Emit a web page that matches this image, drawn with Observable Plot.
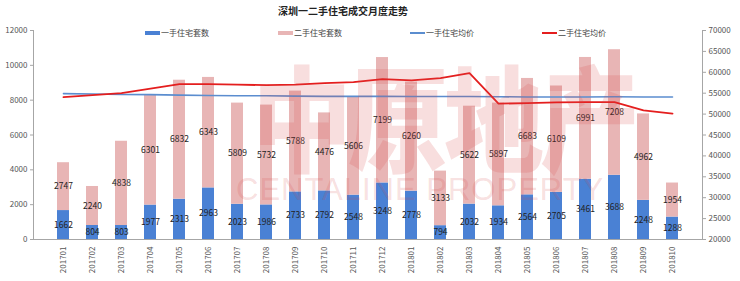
<!DOCTYPE html>
<html>
<head>
<meta charset="utf-8">
<script src="https://cdn.jsdelivr.net/npm/d3@7"></script>
<script src="https://cdn.jsdelivr.net/npm/@observablehq/plot@0.6"></script>
<style>
  html, body { margin: 0; padding: 0; background: #fff; }
  #wrap { position: relative; width: 740px; height: 281px; overflow: hidden; font-family: "Noto Sans CJK SC", sans-serif; }
  #title { height: 20px; line-height: 22px; font-size: 10px; font-weight: bold; color: #222; position: relative; }
  #title span { position: absolute; left: 278px; top: 0; }
  .leg { position: absolute; top: 27px; font-size: 8px; color: #444; display: flex; align-items: center; white-space: nowrap; }
  .leg i { display: inline-block; width: 15px; margin-right: 1px; }
  .wm { position: absolute; pointer-events: none; color: rgba(215, 70, 70, 0.18); white-space: nowrap; }
</style>
</head>
<body>
<div id="wrap">
  <div id="title"><span>深圳一二手住宅成交月度走势</span></div>
</div>
<script>
const months = ["201701","201702","201703","201704","201705","201706","201707","201708","201709","201710","201711","201712","201801","201802","201803","201804","201805","201806","201807","201808","201809","201810"];
const firstHand = [1662,804,803,1977,2313,2963,2023,1986,2733,2792,2548,3248,2778,794,2032,1934,2564,2705,3461,3688,2248,1288];
const secondHand = [2747,2240,4838,6301,6832,6343,5809,5732,5788,4476,5606,7199,6260,3133,5622,5897,6683,6109,6991,7208,4962,1954];
const firstPrice = [54900,54800,54700,54650,54550,54450,54400,54400,54300,54250,54250,54250,54200,54200,54200,54150,54100,54100,54100,54150,54100,54100];
const secondPrice = [54070,54550,55020,56070,57170,57170,57030,56930,57030,57410,57650,58370,58060,58610,59800,52490,52630,52800,52870,52870,50890,50100];
const leftTicks = [0,2000,4000,6000,8000,10000,12000];
const rightTicks = [20000,25000,30000,35000,40000,45000,50000,55000,60000,65000,70000];
const seriesNames = ["一手住宅套数","二手住宅套数","一手住宅均价","二手住宅均价"];
const colors = ["#4a81d4","#e8b5b5","#5b8dcf","#e41e1e"];

const rightMin = 20000, rightMax = 70000, leftMax = 12000;
const toLeft = v => (v - rightMin) / (rightMax - rightMin) * leftMax;
const toRight = v => Math.round(rightMin + v / leftMax * (rightMax - rightMin));

const long = [];
months.forEach((m, i) => {
  long.push({month: m, series: seriesNames[0], value: firstHand[i]});
  long.push({month: m, series: seriesNames[1], value: secondHand[i]});
});
const rows = months.map((m, i) => ({month: m, p1: firstPrice[i], p2: secondPrice[i]}));

const chart = Plot.plot({
  width: 740,
  height: 261,
  marginTop: 10,
  marginBottom: 42,
  marginLeft: 33,
  marginRight: 38,
  style: {fontFamily: "'Noto Sans CJK SC', sans-serif", fontSize: "8px", color: "#555", background: "transparent"},
  x: {domain: months, padding: 0.6, label: null},
  y: {domain: [0, leftMax], label: null},
  color: {domain: seriesNames.slice(0, 2), range: colors.slice(0, 2)},
  marks: [
    Plot.barY(long, {x: "month", y: "value", fill: "series"}),
    Plot.text(long, Plot.stackY({x: "month", y: "value", z: "series", text: d => String(d.value), fill: "#222", fontSize: 8.5})),
    Plot.line(rows, {x: "month", y: d => toLeft(d.p1), stroke: colors[2], strokeWidth: 1.6}),
    Plot.line(rows, {x: "month", y: d => toLeft(d.p2), stroke: colors[3], strokeWidth: 1.8}),
    Plot.frame({anchor: "left", stroke: "#a6a6a6"}),
    Plot.frame({anchor: "right", stroke: "#a6a6a6"}),
    Plot.frame({anchor: "bottom", stroke: "#a6a6a6"}),
    Plot.axisY(leftTicks, {anchor: "left", tickSize: 3, tickPadding: 3, stroke: "#a6a6a6", label: null, tickFormat: d => String(d)}),
    Plot.axisY(rightTicks.map(toLeft), {anchor: "right", tickSize: 3, tickPadding: 3, stroke: "#a6a6a6", label: null, tickFormat: v => String(toRight(v))}),
    Plot.axisX({tickRotate: -90, tickSize: 0, tickPadding: 7, label: null})
  ]
});
const wrap = document.getElementById("wrap");
wrap.appendChild(chart);

// legend
const legX = [145, 278, 410, 542];
seriesNames.forEach((name, i) => {
  const d = document.createElement("div");
  d.className = "leg";
  d.style.left = legX[i] + "px";
  const mk = document.createElement("i");
  mk.style.height = i < 2 ? "4px" : "2px";
  mk.style.background = colors[i];
  d.appendChild(mk);
  d.appendChild(document.createTextNode(name));
  wrap.appendChild(d);
});

// watermark
const wm1 = document.createElement("div");
wm1.className = "wm";
wm1.style.cssText += "left:252px;top:50px;font-size:100px;font-weight:900;line-height:110px;letter-spacing:-4px;transform:scaleY(1.15);transform-origin:0 0;";
wm1.textContent = "中原地产";
wrap.appendChild(wm1);
const wm2 = document.createElement("div");
wm2.className = "wm";
wm2.style.cssText += "left:236px;top:172px;font-size:31px;line-height:36px;font-family:'Liberation Sans',sans-serif;letter-spacing:1px;";
wm2.textContent = "CENTALINE PROPERTY";
wrap.appendChild(wm2);
</script>
</body>
</html>
